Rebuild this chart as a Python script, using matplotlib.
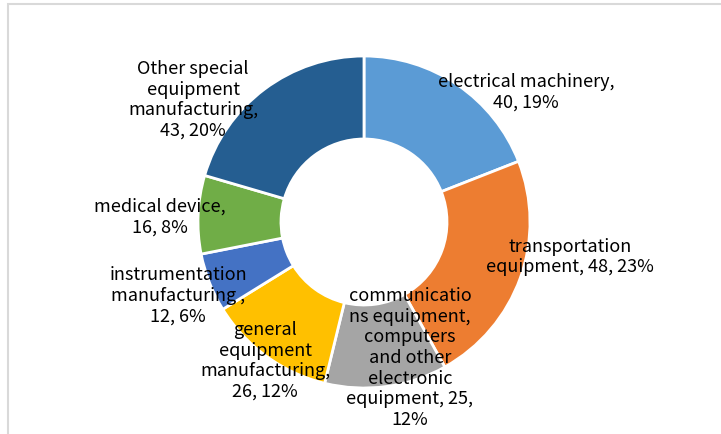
import matplotlib.pyplot as plt
from matplotlib.patches import Rectangle

plt.rcParams['font.family'] = ['Noto Sans CJK SC', 'DejaVu Sans']

# data
categories = ["electrical machinery", "transportation equipment",
              "communications equipment, computers and other electronic equipment",
              "general equipment manufacturing", "instrumentation manufacturing",
              "medical device", "Other special equipment manufacturing"]
values = [40, 48, 25, 26, 12, 16, 43]
percents = ["19%", "23%", "12%", "12%", "6%", "8%", "20%"]
label_texts = [
    "electrical machinery,\n40, 19%",
    "transportation\nequipment, 48, 23%",
    "communicatio\nns equipment,\ncomputers\nand other\nelectronic\nequipment, 25,\n12%",
    "general\nequipment\nmanufacturing,\n26, 12%",
    "instrumentation\nmanufacturing ,\n12, 6%",
    "medical device,\n16, 8%",
    "Other special\nequipment\nmanufacturing,\n43, 20%",
]
colors = ['#5B9BD5', '#ED7D31', '#A5A5A5', '#FFC000', '#4472C4', '#70AD47', '#255E91']

# label centres in pixel coords (x, y from top)
label_pos = [(526, 92), (570, 257), (410, 358), (265, 361), (178, 296), (160, 217), (193, 100)]

W, H = 721, 435
fig = plt.figure(figsize=(W / 100, H / 100), dpi=100)
ax = fig.add_axes([0, 0, 1, 1])

# chart area border
fig.patches.append(Rectangle((8 / W, -0.1), 1.1, (H - 5) / H + 0.1, transform=fig.transFigure,
                             fill=False, edgecolor='#D9D9D9', linewidth=1.5))

cx, cy, R = 364, H - 223, 166
ax.pie(values, colors=colors, startangle=90, counterclock=False,
       center=(cx, cy), radius=R, frame=True,
       wedgeprops=dict(width=R * 0.5, edgecolor='white', linewidth=2))
ax.set_xlim(0, W)
ax.set_ylim(0, H)
ax.set_aspect('equal')
ax.axis('off')

for txt, (x, y) in zip(label_texts, label_pos):
    ax.text(x, H - y, txt, ha='center', va='center', fontsize=13,
            color='#000000', linespacing=1.18)

plt.savefig('out.png', dpi=100)
